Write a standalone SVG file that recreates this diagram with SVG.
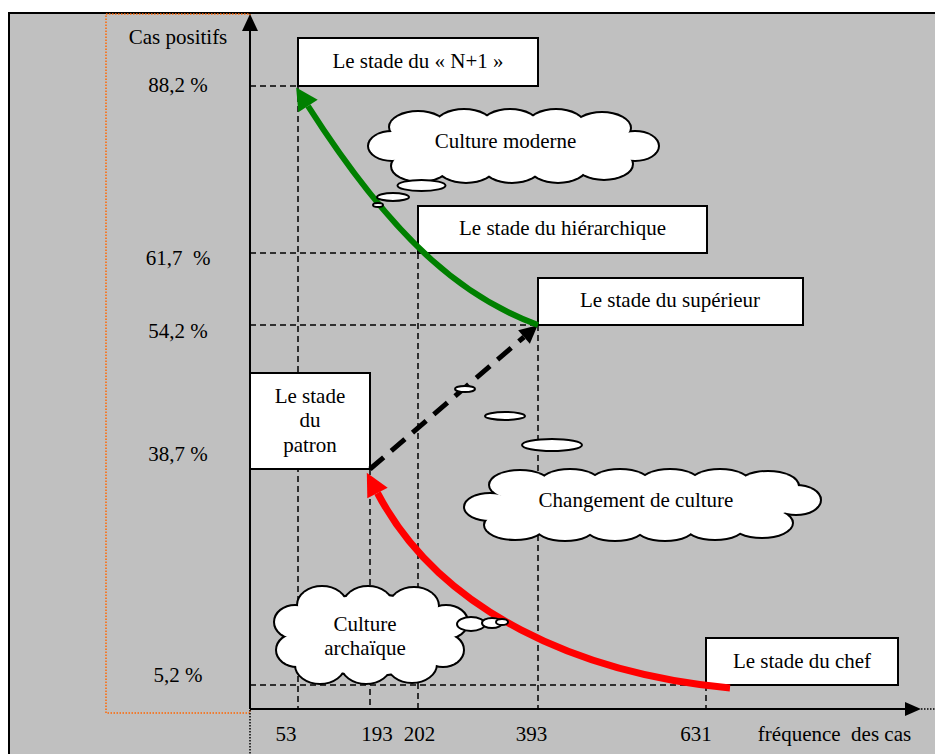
<svg xmlns="http://www.w3.org/2000/svg" width="935" height="754" viewBox="0 0 935 754">
<defs>
<style>
text { font-family: "Liberation Serif", "Times New Roman", serif; font-size: 21px; fill: #000; }
.box { fill: #fff; stroke: #000; stroke-width: 2; }
.grid { stroke: #000; stroke-width: 1.5; stroke-dasharray: 6 4; fill: none; }
.axis { stroke: #000; stroke-width: 2; fill: none; }
.dot { stroke: #000; stroke-width: 1.5; stroke-dasharray: 1.5 1.5; fill: none; }
.cs { fill: #fff; stroke: #000; stroke-width: 4; }
.cf { fill: #fff; stroke: none; }
.bub { fill: #fff; stroke: #000; stroke-width: 2; }
</style>
<marker id="hg" markerUnits="userSpaceOnUse" orient="auto" markerWidth="30" markerHeight="30" refX="0" refY="0" overflow="visible"><path d="M0,-11.5 L22,0 L0,11.5 Z" fill="#008000"/></marker>
<marker id="hr" markerUnits="userSpaceOnUse" orient="auto" markerWidth="30" markerHeight="30" refX="0" refY="0" overflow="visible"><path d="M0,-11.5 L23,0 L0,11.5 Z" fill="#ff0000"/></marker>
<marker id="hb" markerUnits="userSpaceOnUse" orient="auto" markerWidth="30" markerHeight="30" refX="0" refY="0" overflow="visible"><path d="M0,-9 L18,0 L0,9 Z" fill="#000"/></marker>
<g id="cl1">
<ellipse cx="513" cy="146" rx="125" ry="28"/>
<ellipse cx="418" cy="127" rx="28" ry="15"/><ellipse cx="464" cy="125" rx="28" ry="15"/><ellipse cx="510" cy="125" rx="28" ry="15"/><ellipse cx="556" cy="125" rx="28" ry="15"/><ellipse cx="602" cy="128" rx="28" ry="15"/>
<ellipse cx="420" cy="166" rx="28" ry="15"/><ellipse cx="466" cy="167" rx="28" ry="15"/><ellipse cx="512" cy="167" rx="28" ry="15"/><ellipse cx="558" cy="167" rx="28" ry="15"/><ellipse cx="604" cy="164" rx="28" ry="15"/>
<ellipse cx="392" cy="146" rx="23" ry="14"/><ellipse cx="635" cy="146" rx="23" ry="14"/>
</g>
<g id="cl2">
<ellipse cx="642" cy="505" rx="150" ry="24"/>
<ellipse cx="520" cy="485" rx="30" ry="14"/><ellipse cx="570" cy="484" rx="30" ry="14"/><ellipse cx="620" cy="484" rx="30" ry="14"/><ellipse cx="670" cy="484" rx="30" ry="14"/><ellipse cx="720" cy="484" rx="30" ry="14"/><ellipse cx="768" cy="486" rx="30" ry="14"/>
<ellipse cx="515" cy="525" rx="30" ry="14"/><ellipse cx="565" cy="526" rx="30" ry="14"/><ellipse cx="615" cy="526" rx="30" ry="14"/><ellipse cx="665" cy="526" rx="30" ry="14"/><ellipse cx="715" cy="525" rx="30" ry="14"/><ellipse cx="762" cy="523" rx="30" ry="14"/>
<ellipse cx="490" cy="507" rx="25" ry="13"/><ellipse cx="796" cy="500" rx="24" ry="14"/>
</g>
<g id="cl3">
<ellipse cx="370" cy="635" rx="80" ry="40"/>
<ellipse cx="322" cy="605" rx="24" ry="18"/><ellipse cx="368" cy="605" rx="24" ry="18"/><ellipse cx="414" cy="606" rx="24" ry="18"/>
<ellipse cx="320" cy="665" rx="24" ry="18"/><ellipse cx="366" cy="665" rx="24" ry="18"/><ellipse cx="412" cy="664" rx="24" ry="18"/>
<ellipse cx="295" cy="622" rx="20" ry="16"/><ellipse cx="297" cy="650" rx="20" ry="16"/>
<ellipse cx="446" cy="622" rx="21" ry="16"/><ellipse cx="443" cy="650" rx="20" ry="16"/>
</g>
</defs>

<rect x="9" y="13" width="940" height="760" fill="#c0c0c0" stroke="#000" stroke-width="2"/>
<rect x="106" y="14" width="144" height="699" fill="none" stroke="#ff6600" stroke-width="1.5" stroke-dasharray="1.5 1.5"/>

<g id="grid">
<line class="grid" x1="250" y1="86" x2="298" y2="86"/>
<line class="grid" x1="250" y1="253" x2="418" y2="253"/>
<line class="grid" x1="250" y1="325" x2="538" y2="325"/>
<line class="grid" x1="250" y1="685" x2="706" y2="685"/>
<line class="grid" x1="298" y1="86" x2="298" y2="709"/>
<line class="grid" x1="370" y1="469" x2="370" y2="709"/>
<line class="grid" x1="418" y1="253" x2="418" y2="709"/>
<line class="grid" x1="538" y1="325" x2="538" y2="709"/>
<line class="grid" x1="706" y1="685" x2="706" y2="709"/>
</g>

<g id="axes">
<line class="axis" x1="250" y1="30" x2="250" y2="709"/>
<polygon points="250,14 242,31 258,31" fill="#000"/>
<line class="axis" x1="250" y1="709" x2="907" y2="709"/>
<polygon points="921,709 905,702 905,716" fill="#000"/>
<line class="dot" x1="250" y1="710" x2="250" y2="754"/>
<line class="dot" x1="921" y1="709" x2="935" y2="709"/>
<text x="178" y="44" text-anchor="middle">Cas positifs</text>
<text x="178" y="92" text-anchor="middle">88,2 %</text>
<text x="178" y="265" text-anchor="middle" xml:space="preserve">61,7  %</text>
<text x="178" y="338" text-anchor="middle">54,2 %</text>
<text x="178" y="461" text-anchor="middle">38,7 %</text>
<text x="178" y="682" text-anchor="middle">5,2 %</text>
<text x="286" y="741" text-anchor="middle">53</text>
<text x="377" y="741" text-anchor="middle">193</text>
<text x="419.5" y="741" text-anchor="middle">202</text>
<text x="531.5" y="741" text-anchor="middle">393</text>
<text x="696" y="741" text-anchor="middle">631</text>
<text x="834.5" y="741" text-anchor="middle" xml:space="preserve">fréquence  des cas</text>
</g>

<g id="node-n1"><rect class="box" x="298" y="38" width="240" height="48"/><text x="418" y="68" text-anchor="middle">Le stade du « N+1 »</text></g>
<g id="node-hierarchique"><rect class="box" x="418" y="206" width="289" height="47"/><text x="562.5" y="235" text-anchor="middle">Le stade du hiérarchique</text></g>
<g id="node-superieur"><rect class="box" x="538" y="278" width="265" height="47"/><text x="670" y="307" text-anchor="middle">Le stade du supérieur</text></g>
<g id="node-patron"><rect class="box" x="250" y="373" width="120" height="96"/><text x="310" y="403" text-anchor="middle">Le stade</text><text x="310" y="427" text-anchor="middle">du</text><text x="310" y="452" text-anchor="middle">patron</text></g>
<g id="node-chef"><rect class="box" x="706" y="638" width="192" height="47"/><text x="802" y="668" text-anchor="middle">Le stade du chef</text></g>

<g id="connectors">
<path d="M370,469 L524,337" fill="none" stroke="#000" stroke-width="5" stroke-dasharray="18 10" marker-end="url(#hb)"/>
<path d="M730,688 C580,674 440,612 377.5,493" fill="none" stroke="#ff0000" stroke-width="7" marker-end="url(#hr)"/>
<path d="M538,325 C470,300 400,250 308,106" fill="none" stroke="#008000" stroke-width="6" marker-end="url(#hg)"/>
</g>

<g id="cloud-moderne">
<use href="#cl1" class="cs"/><use href="#cl1" class="cf"/>
<ellipse class="bub" cx="421.5" cy="185.5" rx="24" ry="5.5"/>
<ellipse class="bub" cx="393" cy="197" rx="16" ry="4"/>
<ellipse class="bub" cx="378" cy="205" rx="5" ry="2"/>
<text x="505.5" y="148" text-anchor="middle">Culture moderne</text>
</g>
<g id="cloud-changement">
<use href="#cl2" class="cs"/><use href="#cl2" class="cf"/>
<ellipse class="bub" cx="465" cy="389" rx="10" ry="3"/>
<ellipse class="bub" cx="505" cy="416" rx="20" ry="4"/>
<ellipse class="bub" cx="552" cy="445" rx="30" ry="6"/>
<text x="636" y="507" text-anchor="middle">Changement de culture</text>
</g>
<g id="cloud-archaique">
<use href="#cl3" class="cs"/><use href="#cl3" class="cf"/>
<ellipse class="bub" cx="471" cy="624" rx="14" ry="7"/>
<ellipse class="bub" cx="492" cy="623" rx="10" ry="5"/>
<ellipse class="bub" cx="502" cy="622" rx="6" ry="3"/>
<text x="365" y="631" text-anchor="middle">Culture</text>
<text x="365" y="655" text-anchor="middle">archaïque</text>
</g>
</svg>
